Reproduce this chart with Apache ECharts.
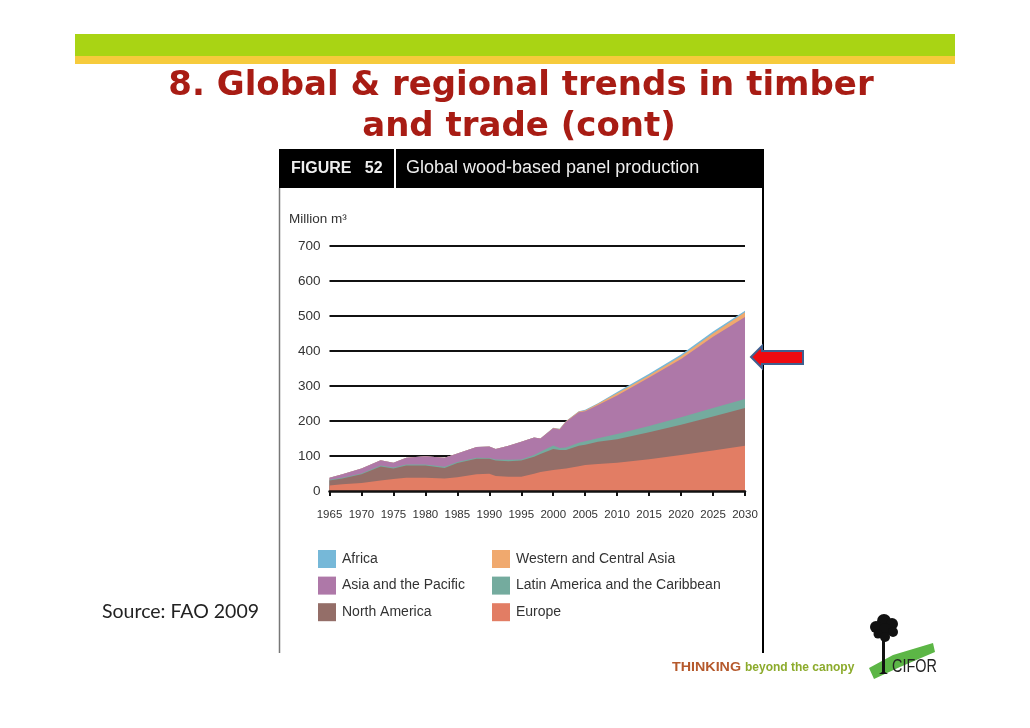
<!DOCTYPE html>
<html>
<head>
<meta charset="utf-8">
<title>Global wood-based panel production</title>
<script src="https://cdn.jsdelivr.net/npm/echarts@6/dist/echarts.min.js"></script>
<style>
  html, body { margin: 0; padding: 0; background: #fff; }
  #main { width: 1030px; height: 728px; }
</style>
</head>
<body>
<div id="main"></div>
<script>
// top edge of each band, million m3 (cumulative, Europe at the bottom)
var years = [1965, 1967, 1970, 1973, 1975, 1977, 1980, 1983, 1985, 1988, 1990, 1991, 1993, 1995, 1997, 1998, 2000, 2001, 2002, 2004, 2005, 2007, 2010, 2015, 2020, 2025, 2030];
var europe = [16, 19, 23, 30, 34, 38, 38, 36, 39, 48, 49, 43, 41, 41, 49, 54, 60, 62, 64, 71, 74, 77, 81, 91, 103, 116, 129];
var northAmerica = [30, 36, 48, 70, 64, 73, 73, 66, 80, 92, 92, 87, 85, 87, 98, 106, 120, 117, 117, 129, 132, 141, 148, 168, 189, 213, 237];
var latinAmerica = [32, 38, 50, 73, 67, 76, 76, 69, 83, 95, 94, 90, 89, 90, 103, 112, 130, 123, 124, 138, 142, 151, 163, 186, 211, 237, 263];
var asiaPacific = [38, 48, 64, 88, 81, 95, 99, 95, 107, 126, 127, 120, 129, 141, 153, 150, 179, 176, 198, 225, 228, 246, 273, 324, 377, 441, 497];
var westCentralAsia = [38, 48, 64, 88, 81, 95, 99, 95, 107, 126, 127, 120, 129, 141, 153, 150, 180, 177, 199, 227, 230, 249, 279, 330, 385, 450, 511];
var africa = [38, 48, 64, 88, 81, 95, 99, 95, 107, 126, 127, 120, 129, 141, 153, 150, 181, 178, 200, 228, 232, 251, 283, 335, 390, 456, 515];

// painted from the top band down so each one covers the rest of the one above it
var regions = [
    { name: 'Africa', values: africa, color: '#76b8d8' },
    { name: 'Western and Central Asia', values: westCentralAsia, color: '#f0a96e' },
    { name: 'Asia and the Pacific', values: asiaPacific, color: '#ae78a8' },
    { name: 'Latin America and the Caribbean', values: latinAmerica, color: '#74ab9e' },
    { name: 'North America', values: northAmerica, color: '#946e68' },
    { name: 'Europe', values: europe, color: '#e27d64' }
];

var sans = '"Liberation Sans", Arial, sans-serif';

function legendBlock(left, names) {
    return {
        left: left,
        top: 550,
        orient: 'vertical',
        itemWidth: 18,
        itemHeight: 18,
        itemGap: 8.6,
        icon: 'rect',
        selectedMode: false,
        padding: 0,
        data: names,
        textStyle: { fontFamily: sans, fontSize: 14, color: '#333', padding: [0, 0, 0, 1] }
    };
}

var chart = echarts.init(document.getElementById('main'));
chart.setOption({
    animation: false,
    backgroundColor: '#fff',
    grid: { left: 329.5, top: 246, width: 415.5, height: 245 },
    legend: [
        legendBlock(318, ['Africa', 'Asia and the Pacific', 'North America']),
        legendBlock(492, ['Western and Central Asia', 'Latin America and the Caribbean', 'Europe'])
    ],
    xAxis: {
        type: 'value',
        min: 1965,
        max: 2030,
        interval: 5,
        z: 5,
        splitLine: { show: false },
        axisLine: { show: true, lineStyle: { color: '#111', width: 2.5 } },
        axisTick: { show: true, length: 5, lineStyle: { color: '#111', width: 2 } },
        axisLabel: {
            margin: 18,
            fontFamily: sans,
            fontSize: 11.5,
            color: '#333',
            formatter: function (v) { return String(v); }
        }
    },
    yAxis: {
        type: 'value',
        min: 0,
        max: 700,
        interval: 100,
        axisLine: { show: false },
        axisTick: { show: false },
        splitLine: { show: true, lineStyle: { color: '#111', width: 2.2 } },
        axisLabel: { margin: 9, fontFamily: sans, fontSize: 13.5, color: '#333' }
    },
    series: regions.map(function (r) {
        return {
            name: r.name,
            type: 'line',
            showSymbol: false,
            symbol: 'none',
            color: r.color,
            lineStyle: { width: 0 },
            areaStyle: { color: r.color, opacity: 1 },
            data: years.map(function (y, i) { return [y, r.values[i]]; })
        };
    }),
    graphic: [
        // slide banner
        { type: 'rect', shape: { x: 75, y: 34, width: 880, height: 22 }, style: { fill: '#a9d414' } },
        { type: 'rect', shape: { x: 75, y: 56, width: 880, height: 8 }, style: { fill: '#f6cb3c' } },
        { type: 'text', style: { x: 521, y: 86, text: '8. Global & regional trends in timber', align: 'center', verticalAlign: 'middle', font: 'bold 34px "DejaVu Sans"', fill: '#a81c14' } },
        { type: 'text', style: { x: 519, y: 127, text: 'and trade (cont)', align: 'center', verticalAlign: 'middle', font: 'bold 34px "DejaVu Sans"', fill: '#a81c14' } },
        // figure frame
        { type: 'rect', shape: { x: 279, y: 149, width: 485, height: 39 }, style: { fill: '#000' } },
        { type: 'rect', shape: { x: 394, y: 149, width: 2, height: 39 }, style: { fill: '#fff' } },
        { type: 'line', shape: { x1: 279.5, y1: 188, x2: 279.5, y2: 653 }, style: { stroke: '#777', lineWidth: 1.5 } },
        { type: 'line', shape: { x1: 763, y1: 188, x2: 763, y2: 653 }, style: { stroke: '#000', lineWidth: 2 } },
        { type: 'text', style: { x: 291, y: 169, text: 'FIGURE   52', verticalAlign: 'middle', font: 'bold 16px ' + sans, fill: '#eee' } },
        { type: 'text', style: { x: 406, y: 168, text: 'Global wood-based panel production', verticalAlign: 'middle', font: '18px ' + sans, fill: '#eee' } },
        { type: 'text', style: { x: 289, y: 219, text: 'Million m\u00b3', verticalAlign: 'middle', font: '13.5px ' + sans, fill: '#333' } },
        { type: 'text', style: { x: 102, y: 612, text: 'Source: FAO 2009', verticalAlign: 'middle', font: '19.5px Lato', fill: '#222' } },
        // arrow pointing at the 2030 end of the chart
        { type: 'polygon', z: 10, shape: { points: [[751, 357], [762, 346], [762, 351], [803, 351], [803, 364], [762, 364], [762, 368]] }, style: { fill: '#ee0a10', stroke: '#3f5f8f', lineWidth: 2 } },
        // footer and logo
        { type: 'text', x: 672, y: 668, scaleX: 1.19, style: { x: 0, y: 0, text: 'THINKING', verticalAlign: 'middle', font: 'bold 12px ' + sans, fill: '#b5592c' } },
        { type: 'text', style: { x: 745, y: 668, text: 'beyond the canopy', verticalAlign: 'middle', font: 'bold 12px ' + sans, fill: '#8cab2c' } },
        { type: 'polygon', shape: { points: [[869, 668], [893, 655], [933, 643], [935, 652], [900, 667], [874, 679]] }, style: { fill: '#5cb646' } },
        { type: 'polygon', shape: { points: [[882, 640], [885, 640], [885, 672], [888, 674], [879, 674], [882, 672]] }, style: { fill: '#111' } },
        { type: 'circle', shape: { cx: 884, cy: 621, r: 7 }, style: { fill: '#111' } },
        { type: 'circle', shape: { cx: 892, cy: 624, r: 6 }, style: { fill: '#111' } },
        { type: 'circle', shape: { cx: 876, cy: 627, r: 6 }, style: { fill: '#111' } },
        { type: 'circle', shape: { cx: 885, cy: 629, r: 6 }, style: { fill: '#111' } },
        { type: 'circle', shape: { cx: 893, cy: 632, r: 5 }, style: { fill: '#111' } },
        { type: 'circle', shape: { cx: 878, cy: 634, r: 4.5 }, style: { fill: '#111' } },
        { type: 'circle', shape: { cx: 885, cy: 637, r: 5 }, style: { fill: '#111' } },
        { type: 'text', x: 892, y: 667, scaleX: 0.8, style: { x: 0, y: 0, text: 'CIFOR', verticalAlign: 'middle', font: '18px ' + sans, fill: '#222' } }
    ]
});
</script>
</body>
</html>
